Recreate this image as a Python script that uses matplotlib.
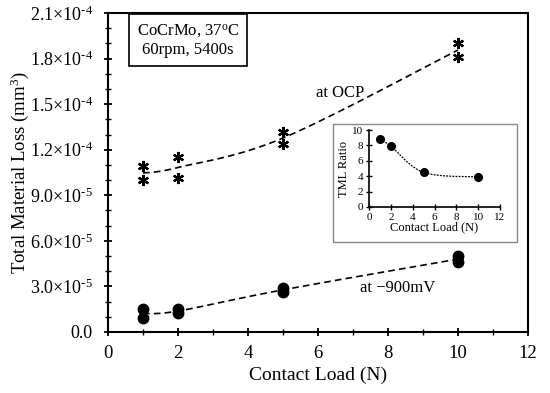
import numpy as np
import matplotlib
matplotlib.use("Agg")
import matplotlib.pyplot as plt
from matplotlib.ticker import MultipleLocator, FixedLocator
from matplotlib.patches import Rectangle

plt.rcParams['font.family'] = ['Liberation Serif', 'DejaVu Serif']
plt.rcParams['mathtext.fontset'] = 'custom'
plt.rcParams['mathtext.rm'] = 'Liberation Serif'
plt.rcParams['mathtext.it'] = 'Liberation Serif:italic'

# Data
load_ocp = [1, 1, 2, 2, 5, 5, 10, 10]
tml_ocp = [1.093e-4, 1.00e-4, 1.152e-4, 1.014e-4, 1.317e-4, 1.237e-4, 1.902e-4, 1.81e-4]
load_cp = [1, 1, 2, 2, 5, 5, 10, 10]
tml_cp = [1.51e-5, 9.2e-6, 1.49e-5, 1.27e-5, 2.9e-5, 2.65e-5, 5.0e-5, 4.6e-5]
ratio_load = [1, 2, 5, 10]
ratio_vals = [8.8, 7.9, 4.5, 3.9]
ytick_vals = [0.0, 3e-5, 6e-5, 9e-5, 1.2e-4, 1.5e-4, 1.8e-4, 2.1e-4]
ytick_labels = ['0.0', r'$3.0{\times}10^{‐5}$', r'$6.0{\times}10^{‐5}$', r'$9.0{\times}10^{‐5}$',
                r'$1.2{\times}10^{‐4}$', r'$1.5{\times}10^{‐4}$', r'$1.8{\times}10^{‐4}$', r'$2.1{\times}10^{‐4}$']


def catmull_rom(xv, yv, n=40):
    P = np.column_stack([xv, yv]).astype(float)
    ext = np.vstack([P[0], P, P[-1]])
    out = []
    t = np.linspace(0, 1, n)[:, None]
    for i in range(1, len(ext) - 2):
        p0, p1, p2, p3 = ext[i-1], ext[i], ext[i+1], ext[i+2]
        seg = 0.5 * ((2*p1) + (-p0 + p2)*t + (2*p0 - 5*p1 + 4*p2 - p3)*t**2
                     + (-p0 + 3*p1 - 3*p2 + p3)*t**3)
        out.append(seg)
    out = np.vstack(out)
    return out[:, 0], out[:, 1]


def group_means(xv, yv):
    ux = sorted(set(xv))
    return ux, [np.mean([b for a, b in zip(xv, yv) if a == u]) for u in ux]


fig = plt.figure(figsize=(5.5, 3.93), dpi=100)
ax = fig.add_axes([108/550, 1-332/393, 420/550, 319/393])

star = (6, 2, 0)
ax.plot(load_ocp, tml_ocp, linestyle='none', marker=star, ms=8, mec='black', mew=1.6, color='black')
ax.plot(load_cp, tml_cp, linestyle='none', marker='o', ms=7.5, color='black')

for lx, ly in ((load_ocp, tml_ocp), (load_cp, tml_cp)):
    mx, my = group_means(lx, ly)
    cx, cy = catmull_rom(mx, my)
    ax.plot(cx, cy, linestyle=(0, (4, 2.5)), color='black', lw=1.2)

ax.set_xlim(0, 12)
ax.set_ylim(0, 2.1e-4)
ax.xaxis.set_major_locator(MultipleLocator(2))
ax.xaxis.set_minor_locator(MultipleLocator(1))
ax.yaxis.set_major_locator(FixedLocator(ytick_vals))
ax.set_yticklabels(ytick_labels)
ax.yaxis.set_minor_locator(MultipleLocator(1e-5))
ax.tick_params(axis='both', which='major', direction='inout', length=6, width=1.3, labelsize=13.5, top=False, right=False)
ax.tick_params(axis='y', which='major', labelsize=13)
ax.tick_params(axis='both', which='minor', direction='inout', length=4, width=1.0, top=False, right=False)
ax.tick_params(axis='x', pad=6)
ax.tick_params(axis='y', pad=8)
for s in ax.spines.values():
    s.set_linewidth(1.5)
ax.set_xlabel('Contact Load (N)', fontsize=14)
ax.set_ylabel(r'Total Material Loss (mm$^3$)', fontsize=13.5)
ax.yaxis.set_label_coords(-0.183, 0.5)

ax.text(188/550, 1-40/393, 'CoCrMo, 37$^{\\rm o}$C\n60rpm, 5400s', transform=fig.transFigure,
        ha='center', va='center', fontsize=12, linespacing=1.2,
        bbox=dict(boxstyle='square,pad=0.45', fc='white', ec='black', lw=1.2))
ax.text(340/550, 1-93/393, 'at OCP', transform=fig.transFigure, ha='center', va='center', fontsize=12)
ax.text(398/550, 1-288/393, 'at \u2212900mV', transform=fig.transFigure, ha='center', va='center', fontsize=12)

# inset frame
fig.patches.append(Rectangle((333/550, 1-242/393), 184/550, 118/393, transform=fig.transFigure,
                             fc='white', ec='#888888', lw=1.0, zorder=3))
ins = fig.add_axes([369/550, 1-207/393, 131/550, 77/393], zorder=4)
ins.patch.set_alpha(0)
ins.plot(ratio_load, ratio_vals, linestyle='none', marker='o', ms=5.5, color='black')
cx, cy = catmull_rom(ratio_load, ratio_vals)
ins.plot(cx, cy, linestyle=(0, (1.5, 1)), color='black', lw=0.9)

ins.set_xlim(0, 12)
ins.set_ylim(0, 10)
ins.xaxis.set_major_locator(MultipleLocator(2))
ins.yaxis.set_major_locator(MultipleLocator(2))
ins.tick_params(axis='both', direction='inout', length=4, width=1.0, labelsize=8, pad=2)
ins.spines['top'].set_visible(False)
ins.spines['right'].set_visible(False)
for s in ('left', 'bottom'):
    ins.spines[s].set_linewidth(1.2)
ins.set_xlabel('Contact Load (N)', fontsize=9, labelpad=0)
ins.set_ylabel('TML Ratio', fontsize=9, labelpad=2)

fig.savefig('out.png', dpi=100)
